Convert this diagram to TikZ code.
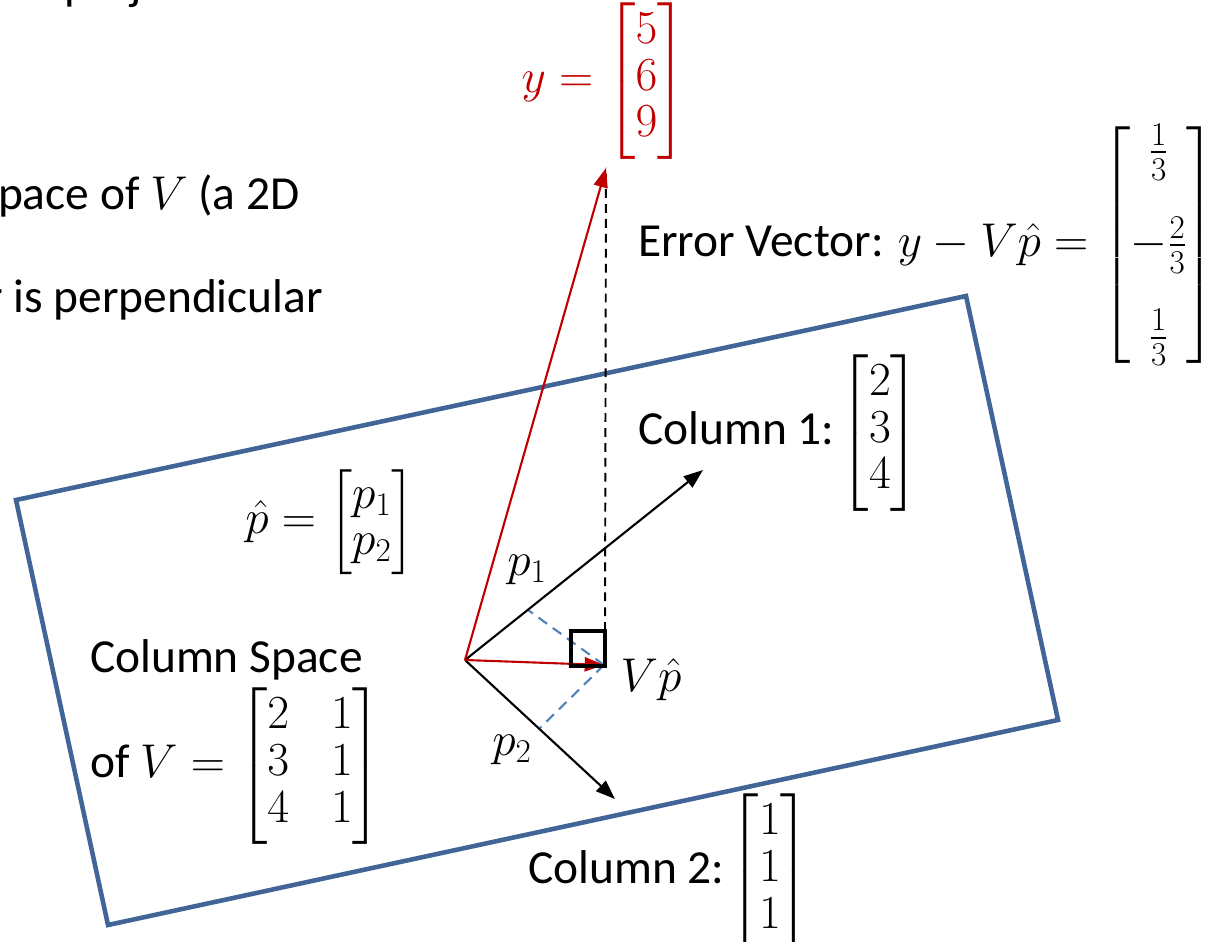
\documentclass[tikz,border=0pt]{standalone}
\usepackage{fix-cm}
\usepackage{amsmath}
\usepackage[no-math]{fontspec}
\setmainfont{Carlito}
\usetikzlibrary{arrows.meta}
\definecolor{myred}{RGB}{192,0,0}
\definecolor{myblue}{RGB}{65,101,150}
\definecolor{dashblue}{RGB}{79,129,189}
\renewcommand{\arraystretch}{0.83}
\begin{document}
\begin{tikzpicture}[x=0.02cm,y=-0.02cm,
  every node/.style={inner sep=0pt, outer sep=0pt, font=\fontsize{27}{32}\selectfont},
  blackvec/.style={line width=1.2pt, black, -{Triangle[length=11pt,width=8pt]}},
  redvec/.style={line width=1.2pt, myred, -{Triangle[length=11pt,width=8pt]}},
  plane/.style={myblue, line width=2.6pt, line join=miter},
  projline/.style={dashblue, line width=1.2pt, dash pattern=on 6pt off 4pt},
  errline/.style={black, line width=1.1pt, dash pattern=on 5pt off 3.5pt},
  rightangle/.style={black, line width=2.3pt}]
\useasboundingbox (0,0) rectangle (1209,942);
\clip (0,0) rectangle (1209,942);

% cut-off slide text
\node[anchor=base east] (t1) at (262,0) {the projection};
\node[anchor=base west] (t2) at (-2,210) {pace of $V$ (a 2D};
\node[anchor=base east] (t3) at (323,313) {r is perpendicular};

% plane
\coordinate (r1) at (16,500);
\coordinate (r2) at (966,296);
\coordinate (r3) at (1058,720);
\coordinate (r4) at (108,925);
\draw[plane] (r1) -- (r2) -- (r3) -- (r4) -- cycle;

% key points
\coordinate (O) at (465,660);
\coordinate (c1) at (703,470);
\coordinate (c2) at (615,799);
\coordinate (ytip) at (606,168);
\coordinate (vp) at (604,665);
\coordinate (e0) at (605,631);
\coordinate (f1) at (528,610);
\coordinate (f2) at (540,728);
\coordinate (s1) at (571,631);
\coordinate (s2) at (605,666);

% projection dashed lines
\draw[projline] (vp) -- (f1);
\draw[projline] (vp) -- (f2);
\draw[errline] (e0) -- (ytip);

% vectors
\draw[blackvec] (O) -- (c1);
\draw[blackvec] (O) -- (c2);
\draw[redvec] (O) -- (ytip);
\draw[redvec] (O) -- (vp);

% right angle marker
\draw[rightangle] (s1) rectangle (s2);

% labels
\node (p1) at (527,570) {$p_1$};
\node (p2) at (512,750) {$p_2$};
\node (vphat) at (651,680) {$V\hat{p}$};

\node[text=myred] (ylab) at (604,81) {$y=\begin{bmatrix}5\\6\\9\end{bmatrix}$};

\node[anchor=west] (err) at (638,245) {Error Vector: $y-V\hat{p}=\begin{bmatrix}\frac{1}{3}\\[22pt]-\frac{2}{3}\\[22pt]\frac{1}{3}\end{bmatrix}$};

\node[anchor=east] (col1) at (920,433) {Column 1:\hspace{3pt}$\begin{bmatrix}2\\3\\4\end{bmatrix}$};
\node[anchor=east] (col2) at (810,872) {Column 2:\hspace{3pt}$\begin{bmatrix}1\\1\\1\end{bmatrix}$};

\node (phat) at (330,522) {$\hat{p}=\begin{bmatrix}p_1\\p_2\end{bmatrix}$};

\node[anchor=west] (cs) at (90,660) {Column Space};
\node[anchor=west] (ofv) at (90,766) {of $V=\setlength{\arraycolsep}{12pt}\begin{bmatrix}2&1\\3&1\\4&1\end{bmatrix}$};
\end{tikzpicture}
\end{document}
